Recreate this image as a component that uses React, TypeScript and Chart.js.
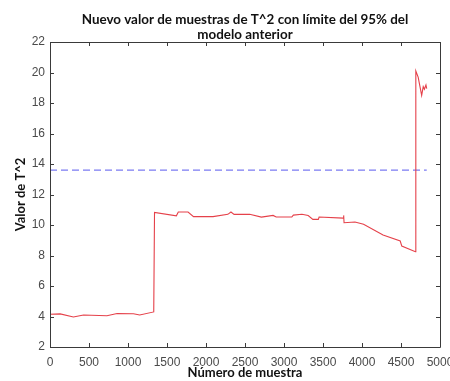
import React, { useEffect, useRef } from "react";
import { Chart, registerables } from "chart.js";

Chart.register(...registerables);

const titleLines = ["Nuevo valor de muestras de T^2 con límite del 95% del", "modelo anterior"];
const xAxisTitle = "Número de muestra";
const yAxisTitle = "Valor de T^2";

const sampleIndex = [
  0, 130, 300, 430, 730, 860, 1070, 1150, 1330, 1340,
  1620, 1645, 1770, 1840, 2090, 2280, 2320, 2360, 2560, 2710,
  2860, 2900, 3100, 3120, 3230, 3310, 3370, 3440, 3450, 3760,
  3765, 3770, 3910, 4020, 4270, 4490, 4510, 4685, 4690, 4720,
  4765, 4785, 4800, 4820, 4830,
];
const t2Values = [
  4.15, 4.17, 3.97, 4.1, 4.05, 4.2, 4.18, 4.1, 4.3, 10.83,
  10.6, 10.85, 10.85, 10.55, 10.55, 10.7, 10.85, 10.7, 10.7, 10.52,
  10.63, 10.52, 10.52, 10.65, 10.7, 10.62, 10.37, 10.37, 10.52, 10.45,
  10.63, 10.15, 10.2, 10.05, 9.34, 8.95, 8.62, 8.25, 20.1, 19.7,
  18.5, 19.07, 18.9, 19.18, 18.95,
];
const limitSamples = [0, 4830];
const limitValue = 13.6;

const xMin = 0;
const xMax = 5000;
const xStep = 500;
const yMin = 2;
const yMax = 22;
const yStep = 2;

const boxPlugin = {
  id: "matlabBox",
  afterDraw(chart: any) {
    const { ctx, chartArea } = chart;
    const { left, right, top, bottom } = chartArea;
    const xs = chart.scales.x;
    const ys = chart.scales.y;
    const len = 4;
    ctx.save();
    ctx.strokeStyle = "#3a3a3a";
    ctx.lineWidth = 1;
    ctx.beginPath();
    ctx.rect(Math.round(left) + 0.5, Math.round(top) + 0.5, Math.round(right - left), Math.round(bottom - top));
    ctx.stroke();
    ctx.beginPath();
    xs.ticks.forEach((t: any) => {
      const px = Math.round(xs.getPixelForValue(t.value)) + 0.5;
      ctx.moveTo(px, bottom);
      ctx.lineTo(px, bottom - len);
      ctx.moveTo(px, top);
      ctx.lineTo(px, top + len);
    });
    ys.ticks.forEach((t: any) => {
      const py = Math.round(ys.getPixelForValue(t.value)) + 0.5;
      ctx.moveTo(left, py);
      ctx.lineTo(left + len, py);
      ctx.moveTo(right, py);
      ctx.lineTo(right - len, py);
    });
    ctx.stroke();
    // title centred over the plot area
    ctx.fillStyle = "#111";
    ctx.font = "bold 13.4px Lato";
    ctx.textAlign = "center";
    ctx.textBaseline = "middle";
    const cx = (left + right) / 2;
    ctx.fillText(titleLines[0], cx, 20);
    ctx.fillText(titleLines[1], cx, 35);
    ctx.restore();
  },
};

export default function App() {
  const ref = useRef<HTMLCanvasElement | null>(null);
  useEffect(() => {
    if (!ref.current) return;
    const chart = new Chart(ref.current, {
      type: "line",
      data: {
        datasets: [
          {
            label: "T^2",
            data: sampleIndex.map((x, i) => ({ x, y: t2Values[i] })),
            borderColor: "#e5414a",
            borderWidth: 1.1,
            pointRadius: 0,
            tension: 0,
            fill: false,
          },
          {
            label: "Límite 95%",
            data: limitSamples.map((x) => ({ x, y: limitValue })),
            borderColor: "#7b7bf2",
            borderWidth: 1.2,
            borderDash: [7, 4],
            pointRadius: 0,
            fill: false,
          },
        ],
      },
      options: {
        animation: false,
        responsive: false,
        layout: { padding: { left: 0, right: 10, top: 42, bottom: 0 } },
        plugins: {
          legend: { display: false },
          tooltip: { enabled: false },
          title: { display: false },
        },
        scales: {
          x: {
            type: "linear",
            min: xMin,
            max: xMax,
            grid: { display: false, drawTicks: false },
            border: { display: false },
            ticks: {
              stepSize: xStep,
              color: "#4a4a4a",
              font: { family: "Liberation Sans", size: 12 },
              padding: 8,
              maxRotation: 0,
              autoSkip: false,
              callback: (v: any) => String(v),
            },
            title: {
              display: true,
              text: xAxisTitle,
              color: "#111",
              font: { family: "Lato", size: 13, weight: "bold" },
              padding: { top: 2, bottom: 0 },
            },
            afterFit: (s: any) => {
              s.height = 34;
              s.paddingLeft = 0;
              s.paddingRight = 0;
            },
          },
          y: {
            type: "linear",
            min: yMin,
            max: yMax,
            grid: { display: false, drawTicks: false },
            border: { display: false },
            ticks: {
              stepSize: yStep,
              color: "#4a4a4a",
              font: { family: "Liberation Sans", size: 12 },
              padding: 5,
              autoSkip: false,
              callback: (v: any) => String(v),
            },
            title: {
              display: true,
              text: yAxisTitle,
              color: "#111",
              font: { family: "Lato", size: 13, weight: "bold" },
              padding: { top: 13, bottom: 0 },
            },
            afterFit: (s: any) => {
              s.width = 50;
              s.paddingTop = 0;
              s.paddingBottom = 0;
            },
          },
        },
      },
      plugins: [boxPlugin],
    });
    return () => chart.destroy();
  }, []);
  return (
    <div style={{ position: "fixed", left: 0, top: 0, width: 450, height: 381, background: "#fff" }}>
      <canvas ref={ref} width={450} height={381} />
    </div>
  );
}
